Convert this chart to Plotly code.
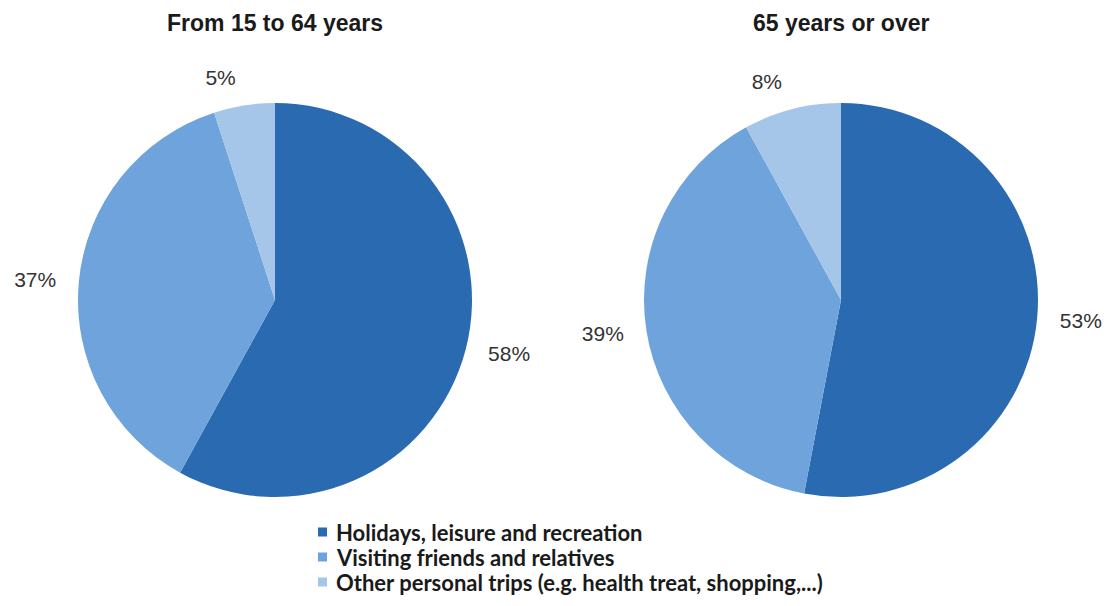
import plotly.graph_objects as go

purposes = [
    "Holidays, leisure and recreation",
    "Visiting friends and relatives",
    "Other personal trips (e.g. health treat, shopping,...)",
]
age_groups = ["From 15 to 64 years", "65 years or over"]
share_15_64 = [58, 37, 5]
share_65_plus = [53, 39, 8]
colors = ["#2A6AB0", "#6FA3DC", "#A5C5E9"]

W, H = 1109, 606
R = 197          # pie radius in px
LABEL_PAD = 17   # extra distance of the outside labels from the rim
CY = 300         # vertical centre of both pies


def px_domain(cx, r):
    return dict(x=[(cx - r) / W, (cx + r) / W], y=[(H - CY - r) / H, (H - CY + r) / H])


fig = go.Figure()

for vals, cx in [(share_15_64, 275), (share_65_plus, 841)]:
    # filled pie
    fig.add_trace(go.Pie(
        labels=purposes,
        values=vals,
        sort=False,
        direction="clockwise",
        rotation=0,
        marker=dict(colors=colors, line=dict(width=0)),
        textinfo="none",
        domain=px_domain(cx, R),
        showlegend=False,
        hoverinfo="label+percent",
    ))
    # same slices on a slightly wider ring, used only to place the percentage labels
    fig.add_trace(go.Pie(
        labels=purposes,
        values=vals,
        sort=False,
        direction="clockwise",
        rotation=0,
        marker=dict(colors=["rgba(0,0,0,0)"] * len(vals), line=dict(width=0)),
        textposition="outside",
        texttemplate="%{value}%",
        textfont=dict(family="Liberation Sans, Arial", size=21, color="#333333"),
        domain=px_domain(cx, R + LABEL_PAD),
        showlegend=False,
        hoverinfo="skip",
    ))

# Chart titles above each pie
for name, cx in zip(age_groups, [275, 841]):
    fig.add_annotation(
        text=f"<b>{name}</b>",
        x=cx / W, y=1 - 23 / H, xref="paper", yref="paper",
        xanchor="center", yanchor="middle", showarrow=False,
        font=dict(family="Liberation Sans, Arial", size=23, color="#1a1a1a"),
    )

# Compact legend: colour squares with bold captions
row_y = [532, 557, 582]
for name, col, ry in zip(purposes, colors, row_y):
    fig.add_shape(
        type="rect", xref="paper", yref="paper",
        x0=318 / W, x1=327 / W, y0=1 - (ry + 4.5) / H, y1=1 - (ry - 4.5) / H,
        fillcolor=col, line=dict(width=0),
    )
    fig.add_annotation(
        text=f"<b>{name}</b>",
        x=334 / W, y=1 - ry / H, xref="paper", yref="paper",
        xanchor="left", yanchor="middle", showarrow=False,
        font=dict(family="Lato, Open Sans, sans-serif", size=22, color="#1a1a1a"),
    )

fig.update_layout(
    width=W, height=H,
    margin=dict(l=0, r=0, t=0, b=0),
    paper_bgcolor="white",
    plot_bgcolor="white",
    showlegend=False,
)

fig.write_html("out.html")
